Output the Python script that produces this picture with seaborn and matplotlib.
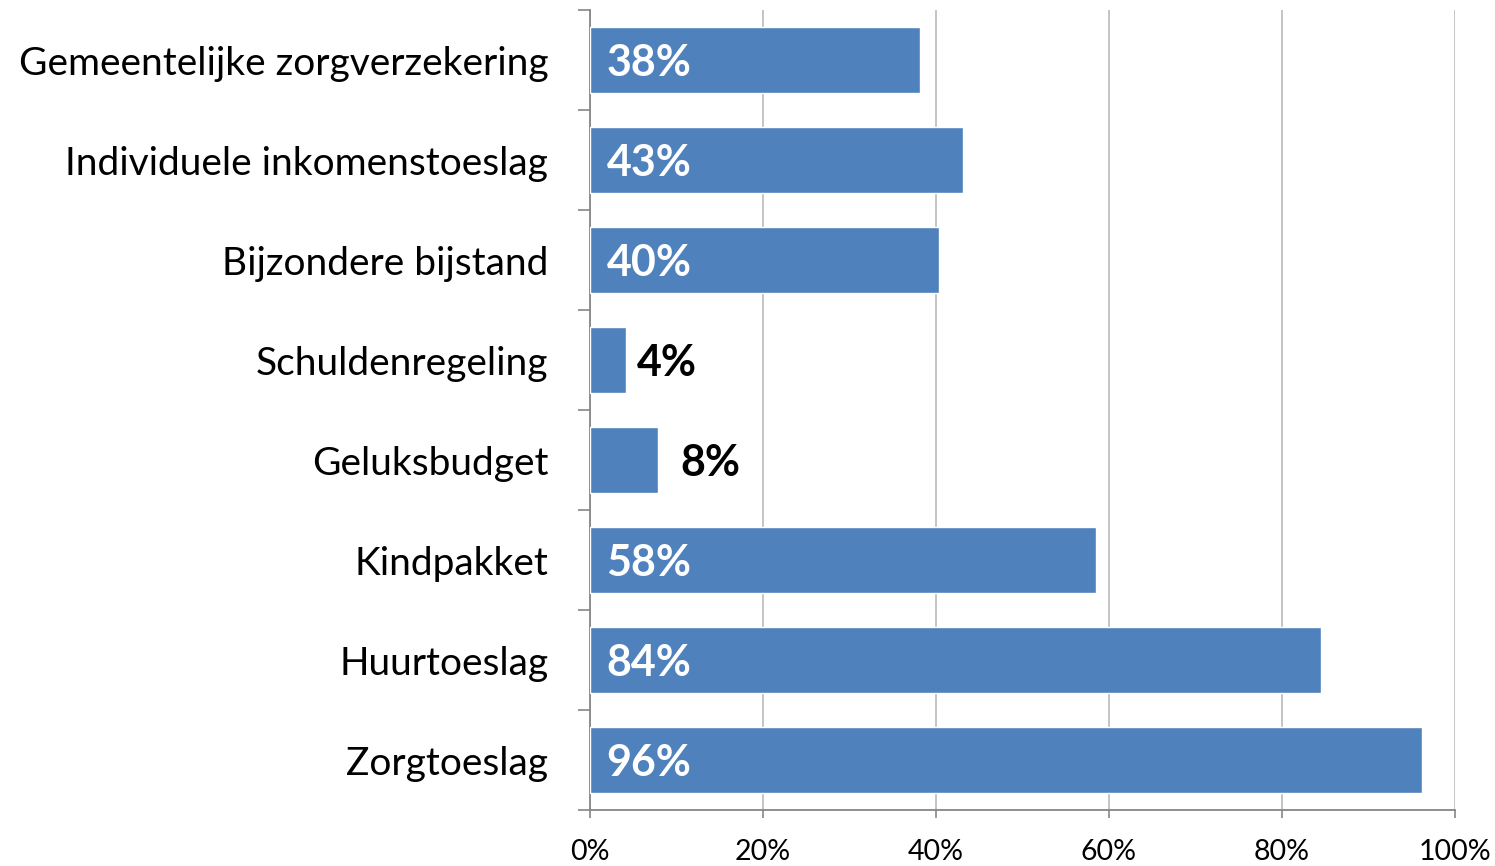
import matplotlib
matplotlib.use("Agg")
import matplotlib.pyplot as plt
import seaborn as sns
import pandas as pd
from matplotlib.ticker import FixedLocator

categories = ["Gemeentelijke zorgverzekering", "Individuele inkomenstoeslag",
              "Bijzondere bijstand", "Schuldenregeling", "Geluksbudget",
              "Kindpakket", "Huurtoeslag", "Zorgtoeslag"]
values = [38.2, 43.1, 40.3, 4.2, 7.9, 58.5, 84.5, 96.2]
value_labels = ["38%", "43%", "40%", "4%", "8%", "58%", "84%", "96%"]
x_ticks = [0, 20, 40, 60, 80, 100]
x_tick_labels = ["0%", "20%", "40%", "60%", "80%", "100%"]

df = pd.DataFrame({"cat": categories, "val": values})

sns.set_style("white")
plt.rcParams["font.family"] = ["Lato", "DejaVu Sans"]
plt.rcParams["text.color"] = "black"
plt.rcParams["xtick.color"] = "black"
plt.rcParams["ytick.color"] = "black"

fig = plt.figure(figsize=(14.95, 8.66), dpi=100)
ax = fig.add_axes([590/1495, 56/866, 865/1495, 800/866])

sns.barplot(data=df, y="cat", x="val", orient="h", color="#4F81BD",
            saturation=1, width=0.66, ax=ax, zorder=3)

ax.set_xlim(0, 100)
ax.set_ylim(7.5, -0.5)
ax.set_xlabel("")
ax.set_ylabel("")

ax.set_xticks(x_ticks)
ax.set_xticklabels(x_tick_labels, fontsize=20.5)
ax.xaxis.grid(True, color="#BFBFBF", linewidth=1.3, zorder=0)
ax.set_axisbelow(True)
ax.tick_params(axis="x", bottom=True, direction="out", length=6, width=1.2,
               color="#868686", labelcolor="black", pad=15)

ax.tick_params(axis="y", which="major", left=False, length=0, pad=30,
               labelsize=28, labelcolor="black")
ax.yaxis.set_minor_locator(FixedLocator([i - 0.5 for i in range(len(categories) + 1)]))
ax.tick_params(axis="y", which="minor", left=True, direction="out", length=9,
               width=1.2, color="#868686")

for s in ["top", "right"]:
    ax.spines[s].set_visible(False)
for s in ["left", "bottom"]:
    ax.spines[s].set_color("#868686")
    ax.spines[s].set_linewidth(1.3)

for i, (v, lab) in enumerate(zip(values, value_labels)):
    if v > 20:
        ax.text(1.9, i + 0.03, lab, color="white", fontsize=31, fontweight="bold",
                va="center", ha="left", zorder=5)
    else:
        off = 1.2 if v < 6 else 2.6
        ax.text(v + off, i + 0.03, lab, color="black", fontsize=31, fontweight="bold",
                va="center", ha="left", zorder=5)

fig.savefig("out.png", dpi=100)
